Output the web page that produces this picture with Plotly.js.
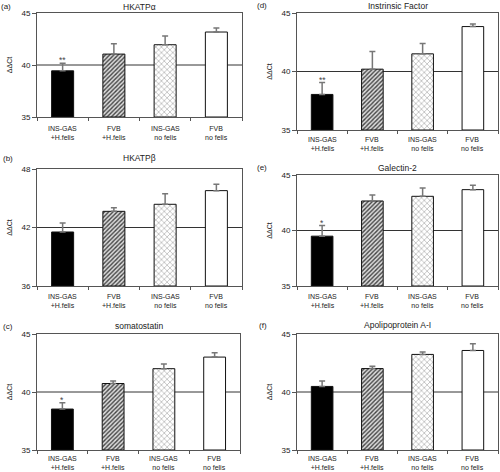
<!DOCTYPE html>
<html><head><meta charset="utf-8">
<script src="https://cdn.plot.ly/plotly-3.0.1.min.js"></script>
<style>html,body{margin:0;padding:0;background:#fff}#chart{width:500px;height:472px}</style>
</head><body><div id="chart"></div>
<script>
const categories = ['INS-GAS<br>+H.felis','FVB<br>+H.felis','INS-GAS<br>no felis','FVB<br>no felis'];
const panelTitles = ['HKATPα','HKATPβ','somatostatin','Instrinsic Factor','Galectin-2','Apolipoprotein A-I'];
const panelLabels = ['(a)','(b)','(c)','(d)','(e)','(f)'];
const hkatpA = [39.44, 41.05, 41.95, 43.17];
const hkatpAErr = [0.74, 0.99, 0.83, 0.38];
const hkatpB = [41.54, 43.66, 44.38, 45.78];
const hkatpBErr = [0.92, 0.37, 1.09, 0.65];
const somatostatin = [38.53, 40.73, 42.01, 43.01];
const somatostatinErr = [0.54, 0.22, 0.40, 0.37];
const intrinsicFactor = [38.04, 40.20, 41.51, 43.84];
const intrinsicFactorErr = [1.02, 1.50, 0.88, 0.22];
const galectin2 = [39.49, 42.66, 43.08, 43.68];
const galectin2Err = [0.96, 0.54, 0.75, 0.39];
const apoA1 = [40.48, 42.02, 43.24, 43.58];
const apoA1Err = [0.46, 0.20, 0.20, 0.57];
const sigA = ['**','','',''];
const sigB = ['','','',''];
const sigC = ['*','','',''];
const sigD = ['**','','',''];
const sigE = ['*','','',''];
const sigF = ['','','',''];
const yRanges = [[35,45],[36,48],[35,45],[35,45],[35,45],[35,45]];
const yTicks = [[35,40,45],[36,42,48],[35,40,45],[35,40,45],[35,40,45],[35,40,45]];
const refLines = [40, 42, 40, 40, 40, 40];

const values = [hkatpA, hkatpB, somatostatin, intrinsicFactor, galectin2, apoA1];
const errs = [hkatpAErr, hkatpBErr, somatostatinErr, intrinsicFactorErr, galectin2Err, apoA1Err];
const sigs = [sigA, sigB, sigC, sigD, sigE, sigF];

// layout geometry in pixels: [left, right, top, bottom]
const W = 500, H = 472;
const boxes = [
  [37, 242, 13, 117],
  [37, 242, 169, 286],
  [37, 240, 334, 450],
  [297, 498, 13, 130],
  [297, 498, 175, 286],
  [297, 498, 334, 450]
];
const titleY = [7, 158, 326, 6, 168, 325];
const labelX = [0, 2, 2, 256, 256, 258];
const catOffset = [7.3, 6.3, 4, 5.3, 6.3, 4];

const fills = [
  {color:'#000', pattern:{shape:''}},
  {color:'#bbb', pattern:{shape:'/', fgcolor:'#444', bgcolor:'#ddd', size:3, solidity:0.45}},
  {color:'#fff', pattern:{shape:'x', fgcolor:'#aaa', bgcolor:'#fff', size:4, solidity:0.3}},
  {color:'#fff', pattern:{shape:''}}
];

const font = 'Liberation Sans, Arial, sans-serif';
const traces = [], annotations = [], shapes = [];
const layout = {
  width: W, height: H, margin:{l:0,r:0,t:0,b:0},
  paper_bgcolor:'#fff', plot_bgcolor:'#fff', showlegend:false,
  font:{family:font, size:8, color:'#222'}
};

for (let p = 0; p < 6; p++) {
  const n = p + 1;
  const xa = 'x' + (n === 1 ? '' : n), ya = 'y' + (n === 1 ? '' : n);
  const [l, r, t, b] = boxes[p];
  for (let i = 0; i < 4; i++) {
    traces.push({
      type:'bar', x:[categories[i]], y:[values[p][i] - yRanges[p][0]], base:yRanges[p][0],
      xaxis:xa, yaxis:ya, width:0.43,
      marker:{color:fills[i].color, pattern:fills[i].pattern, line:{color:'#111', width:1}},
      error_y:{type:'data', symmetric:false, array:[errs[p][i]], arrayminus:[0],
               color:'#777', thickness:1.5, width:3},
      hoverinfo:'none'
    });
  }
  layout['xaxis' + (n === 1 ? '' : n)] = {
    domain:[l / W, r / W], anchor:ya, type:'category', categoryorder:'array', categoryarray:categories,
    showline:true, linecolor:'#555', linewidth:1, mirror:true, showticklabels:false,
    ticks:'outside', tickson:'boundaries', ticklen:3, tickcolor:'#555',
    showgrid:false, zeroline:false, fixedrange:true
  };
  layout['yaxis' + (n === 1 ? '' : n)] = {
    domain:[1 - b / H, 1 - t / H], anchor:xa, range:yRanges[p], tickvals:yTicks[p],
    showline:true, linecolor:'#555', linewidth:1, mirror:true,
    ticks:'outside', ticklen:4, tickcolor:'#555', showgrid:false, zeroline:false,
    tickfont:{size:8, family:font, color:'#222'},
    title:{text:'ΔΔCt', font:{size:7, family:font, color:'#222'}, standoff:8}
  };
  shapes.push({type:'line', xref:xa + ' domain', yref:ya, x0:0, x1:1, y0:refLines[p], y1:refLines[p],
               line:{color:'#333', width:1}, layer:'below'});
  annotations.push({xref:'paper', yref:'paper', x:((l + r) / 2) / W, y:1 - titleY[p] / H,
                    text:panelTitles[p], showarrow:false, xanchor:'center', yanchor:'middle',
                    borderpad:0, font:{size:8.5, family:font, color:'#222'}});
  annotations.push({xref:'paper', yref:'paper', x:labelX[p] / W, y:1 - titleY[p] / H,
                    text:panelLabels[p], showarrow:false, xanchor:'left', yanchor:'middle',
                    borderpad:0, font:{size:8, family:font, color:'#222'}});
  for (let i = 0; i < 4; i++) {
    annotations.push({xref:xa, yref:'paper', x:categories[i], y:1 - (b + catOffset[p]) / H,
                      text:categories[i], showarrow:false, yanchor:'top', borderpad:0,
                      font:{size:7, family:font, color:'#222'}});
    if (sigs[p][i]) {
      annotations.push({xref:xa, yref:ya, x:categories[i], y:values[p][i] + errs[p][i],
                        text:sigs[p][i], showarrow:false, yanchor:'bottom', yshift:-3, borderpad:0,
                        font:{size:8.5, family:font, color:'#444'}});
    }
  }
}
layout.shapes = shapes;
layout.annotations = annotations;
Plotly.newPlot('chart', traces, layout, {staticPlot:true});
</script></body></html>
